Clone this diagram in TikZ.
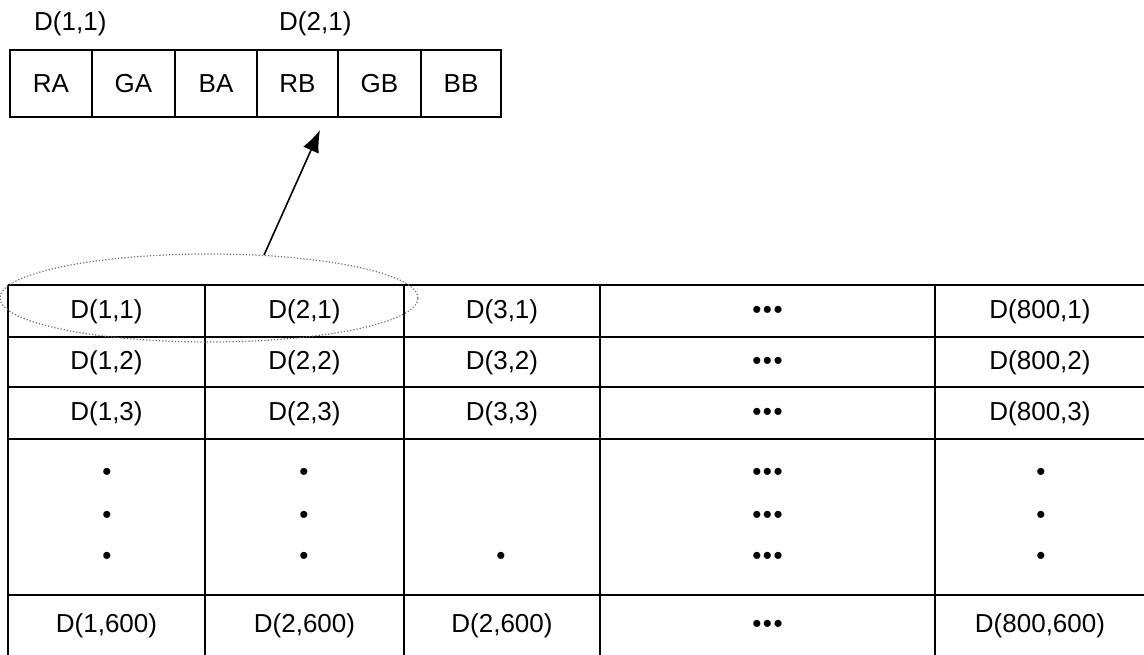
\documentclass[tikz,border=0pt]{standalone}
\usepackage{fontspec}
\setmainfont{Liberation Sans}
\usetikzlibrary{shapes.geometric,arrows.meta}
\begin{document}
\begin{tikzpicture}[x=1pt,y=-1pt,
  txt/.style={font=\fontsize{26}{30}\selectfont, inner sep=0pt, anchor=center},
  bytecell/.style={draw, line width=1.3pt, minimum height=67pt, inner sep=0pt, font=\fontsize{26}{30}\selectfont},
  gridline/.style={line width=1.3pt},
  halo/.style={draw=gray!85!black, dotted, line width=1.2pt, ellipse, inner sep=0pt},
  pointer/.style={line width=1.6pt, -{Latex[length=22pt,width=17pt]}}]
\useasboundingbox (0,0) rectangle (1144,655);
\fill[white] (0,0) rectangle (1144,655);
% top strip
\node[bytecell, minimum width=82pt] (ra) at (51,83.5) {RA};
\node[bytecell, minimum width=83pt] (ga) at (133.5,83.5) {GA};
\node[bytecell, minimum width=82pt] (ba) at (216,83.5) {BA};
\node[bytecell, minimum width=81pt] (rb) at (297.5,83.5) {RB};
\node[bytecell, minimum width=83pt] (gb) at (379.5,83.5) {GB};
\node[bytecell, minimum width=80pt] (bb) at (461,83.5) {BB};
\node[txt, anchor=west] (lab1) at (34,24) {D(1,1)};
\node[txt, anchor=west] (lab2) at (279,24) {D(2,1)};
% grid
\foreach \x in {8,205,404,600,935} \draw[gridline] (\x,285) -- (\x,660);
\foreach \y in {285,337,387,439,595} \draw[gridline] (8,\y) -- (1150,\y);
% row 1
\node[txt] (c11) at (106.5,312) {D(1,1)};
\node[txt] (c21) at (304.5,312) {D(2,1)};
\node[txt] (c31) at (502,312) {D(3,1)};
\node[txt] (c41) at (767.5,312) {•\kern1.5pt•\kern1.5pt•};
\node[txt] (c51) at (1040,312) {D(800,1)};
% row 2
\node[txt] (c12) at (106.5,363) {D(1,2)};
\node[txt] (c22) at (304.5,363) {D(2,2)};
\node[txt] (c32) at (502,363) {D(3,2)};
\node[txt] (c42) at (767.5,363) {•\kern1.5pt•\kern1.5pt•};
\node[txt] (c52) at (1040,363) {D(800,2)};
% row 3
\node[txt] (c13) at (106.5,414) {D(1,3)};
\node[txt] (c23) at (304.5,414) {D(2,3)};
\node[txt] (c33) at (502,414) {D(3,3)};
\node[txt] (c43) at (767.5,414) {•\kern1.5pt•\kern1.5pt•};
\node[txt] (c53) at (1040,414) {D(800,3)};
% dots rows
\foreach \y/\n in {474/a,517/b,558/c}{
  \node[txt] (d1\n) at (107,\y) {•};
  \node[txt] (d2\n) at (304,\y) {•};
  \node[txt] (d4\n) at (767.5,\y) {•\kern1.5pt•\kern1.5pt•};
  \node[txt] (d5\n) at (1041,\y) {•};
}
\node[txt] (d3c) at (501,558) {•};
% last row
\node[txt] (c1n) at (106.5,626) {D(1,600)};
\node[txt] (c2n) at (304.5,626) {D(2,600)};
\node[txt] (c3n) at (502,626) {D(2,600)};
\node[txt] (c4n) at (767.5,626) {•\kern1.5pt•\kern1.5pt•};
\node[txt] (c5n) at (1040,626) {D(800,600)};
% highlight ellipse and arrow
\node[halo, minimum width=418pt, minimum height=88pt] (ell) at (209,298) {};
\coordinate (tip) at (320,130);
\draw[pointer] (ell.38) -- (tip);
\end{tikzpicture}
\end{document}
